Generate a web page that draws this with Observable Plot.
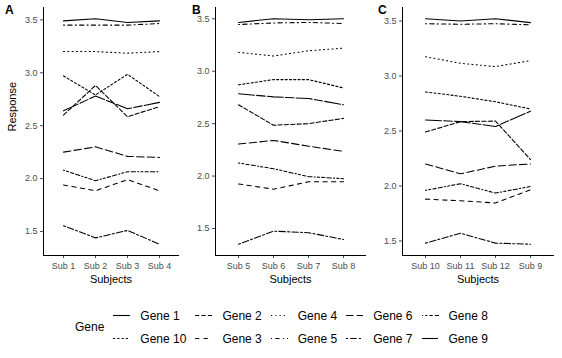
<!DOCTYPE html>
<html>
<head>
<meta charset="utf-8">
<script src="https://cdn.jsdelivr.net/npm/d3@7"></script>
<script src="https://cdn.jsdelivr.net/npm/@observablehq/plot@0.6"></script>
<style>
  body { margin: 0; background: white; }
  #wrap { position: relative; width: 562px; height: 358px; overflow: hidden; font-family: 'Liberation Sans', Arial, sans-serif; }
  #plots { position: absolute; left: 0; top: 0; display: flex; }
  .tag { position: absolute; font-weight: bold; font-size: 12px; line-height: 12px; color: #000; }
  #legend { position: absolute; left: 75px; top: 304px; display: flex; align-items: center; font-size: 12px; color: #000; }
  #legend .title { margin-right: 9px; }
  #legend .grid { display: grid; grid-template-rows: repeat(2, 23px); grid-auto-flow: column; column-gap: 9px; }
  #legend .cell { display: flex; align-items: center; }
  #legend svg { margin-right: 10px; }
</style>
</head>
<body>
<div id="wrap">
  <div id="plots"></div>
  <div class="tag" style="left:5px; top:4px">A</div>
  <div class="tag" style="left:192px; top:4px">B</div>
  <div class="tag" style="left:378px; top:4px">C</div>
  <div id="legend"><div class="title">Gene</div><div class="grid"></div></div>
</div>
<script>
// ---- data ----
const genes = ["Gene 1", "Gene 10", "Gene 2", "Gene 3", "Gene 4", "Gene 5", "Gene 6", "Gene 7", "Gene 8", "Gene 9"];
const subjectsA = ["Sub 1", "Sub 2", "Sub 3", "Sub 4"];
const subjectsB = ["Sub 5", "Sub 6", "Sub 7", "Sub 8"];
const subjectsC = ["Sub 10", "Sub 11", "Sub 12", "Sub 9"];
const yTicks = [1.5, 2.0, 2.5, 3.0, 3.5];
// values per gene: panel A (Sub 1-4), panel B (Sub 5-8), panel C (Sub 10, 11, 12, 9)
const gene1  = [3.49, 3.51, 3.475, 3.49,   3.465, 3.50, 3.49, 3.50,    3.52, 3.50, 3.52, 3.485];
const gene10 = [2.97, 2.79, 2.985, 2.775,  2.87, 2.92, 2.92, 2.84,     2.855, 2.815, 2.765, 2.70];
const gene2  = [2.60, 2.88, 2.585, 2.68,   2.68, 2.485, 2.50, 2.55,    2.49, 2.585, 2.59, 2.24];
const gene3  = [1.94, 1.885, 1.99, 1.885,  1.925, 1.875, 1.945, 1.945, 1.88, 1.865, 1.845, 1.965];
const gene4  = [3.20, 3.20, 3.185, 3.20,   3.18, 3.145, 3.195, 3.22,   3.175, 3.115, 3.085, 3.14];
const gene5  = [3.45, 3.45, 3.45, 3.465,   3.445, 3.46, 3.465, 3.455,  3.475, 3.47, 3.475, 3.465];
const gene6  = [2.25, 2.30, 2.21, 2.20,    2.305, 2.34, 2.285, 2.235,  2.20, 2.11, 2.18, 2.20];
const gene7  = [1.555, 1.44, 1.51, 1.38,   1.35, 1.475, 1.46, 1.395,   1.48, 1.57, 1.48, 1.47];
const gene8  = [2.08, 1.98, 2.065, 2.065,  2.125, 2.07, 1.995, 1.975,  1.96, 2.02, 1.935, 1.995];
const gene9  = [2.64, 2.78, 2.66, 2.72,    2.785, 2.755, 2.74, 2.68,   2.60, 2.585, 2.54, 2.68];

// ---- styles (ggplot default linetypes, in order of gene levels) ----
const linetypes = ["", "22", "42", "44", "13", "1343", "73", "2262", "12223242", "F282"];
const unit = 1.07;
const dashOf = lt => lt === "" ? null : lt.split("").map(h => (parseInt(h, 16) * unit).toFixed(2)).join(",");

const series = [gene1, gene10, gene2, gene3, gene4, gene5, gene6, gene7, gene8, gene9];
const font = "'Liberation Sans', Arial, sans-serif";

function panel(subjects, offset, width, marginLeft, yLabel) {
  const rows = genes.flatMap((g, gi) => subjects.map((s, i) => ({gene: g, subject: s, value: series[gi][offset + i]})));
  const [lo, hi] = d3.extent(rows, d => d.value);
  const pad = (hi - lo) * 0.05;
  const marks = [
    Plot.axisX({tickSize: 3, tickPadding: 4, label: null}),
    Plot.axisY({ticks: yTicks, tickSize: 3, tickPadding: 3, tickFormat: d3.format(".1f"), label: null}),
    Plot.frame({anchor: "left", stroke: "black"}),
    Plot.frame({anchor: "bottom", stroke: "black"}),
    ...genes.map((g, gi) => Plot.line(rows.filter(d => d.gene === g), {
      x: "subject", y: "value", stroke: "black", strokeWidth: 1.07,
      strokeDasharray: dashOf(linetypes[gi])
    })),
    Plot.text(["Subjects"], {frameAnchor: "bottom", dy: 27, fill: "black", fontSize: 11})
  ];
  if (yLabel) marks.push(Plot.text([yLabel], {frameAnchor: "left", dx: -31, rotate: -90, fill: "black", fontSize: 11}));
  return Plot.plot({
    width, height: 290, marginLeft, marginRight: 9, marginTop: 7, marginBottom: 35,
    style: {fontFamily: font, fontSize: "9px", color: "#4D4D4D", background: "white", overflow: "visible"},
    x: {type: "point", domain: subjects, padding: 0.6},
    y: {domain: [lo - pad, hi + pad]},
    marks
  });
}

const plots = document.getElementById("plots");
plots.append(panel(subjectsA, 0, 187, 43, "Response"));
plots.append(panel(subjectsB, 4, 187, 28, null));
plots.append(panel(subjectsC, 8, 188, 28, null));

// ---- legend ----
const grid = document.querySelector("#legend .grid");
genes.forEach((g, gi) => {
  const cell = document.createElement("div");
  cell.className = "cell";
  const ns = "http://www.w3.org/2000/svg";
  const svg = document.createElementNS(ns, "svg");
  svg.setAttribute("width", 17); svg.setAttribute("height", 23);
  const line = document.createElementNS(ns, "line");
  line.setAttribute("x1", 0); line.setAttribute("x2", 17);
  line.setAttribute("y1", 11.5); line.setAttribute("y2", 11.5);
  line.setAttribute("stroke", "black"); line.setAttribute("stroke-width", 1.07);
  const da = dashOf(linetypes[gi]);
  if (da) line.setAttribute("stroke-dasharray", da);
  svg.append(line);
  const lab = document.createElement("span");
  lab.textContent = g;
  cell.append(svg, lab);
  grid.append(cell);
});
</script>
</body>
</html>
